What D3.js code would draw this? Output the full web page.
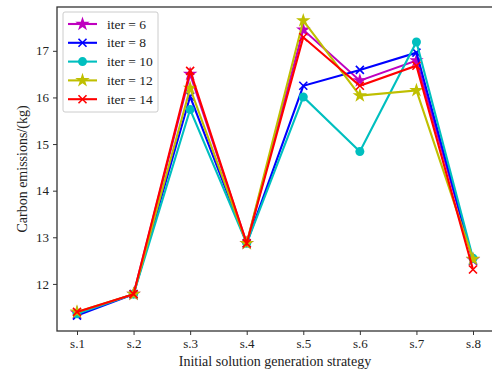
<!DOCTYPE html>
<html><head><meta charset="utf-8">
<script src="https://cdn.jsdelivr.net/npm/d3@7"></script>
<style>body{margin:0;background:#fff}svg{display:block}text{font-family:"Liberation Serif","DejaVu Serif",serif;fill:#222}</style>
</head><body>
<script>
const categories = ["s.1","s.2","s.3","s.4","s.5","s.6","s.7","s.8"];
const iter6  = [11.38, 11.78, 16.50, 12.87, 17.45, 16.36, 16.79, 12.52];
const iter8  = [11.32, 11.78, 16.02, 12.87, 16.25, 16.59, 16.96, 12.50];
const iter10 = [11.36, 11.78, 15.74, 12.87, 16.01, 14.84, 17.19, 12.55];
const iter12 = [11.40, 11.78, 16.20, 12.87, 17.65, 16.04, 16.15, 12.53];
const iter14 = [11.40, 11.78, 16.57, 12.87, 17.29, 16.25, 16.68, 12.31];
const seriesNames = ["iter = 6","iter = 8","iter = 10","iter = 12","iter = 14"];
const yTicks = [12, 13, 14, 15, 16, 17];

const series = [
  {name: seriesNames[0], values: iter6,  color: "#bf00bf", marker: "star"},
  {name: seriesNames[1], values: iter8,  color: "#0000ff", marker: "x"},
  {name: seriesNames[2], values: iter10, color: "#00bfbf", marker: "circle"},
  {name: seriesNames[3], values: iter12, color: "#bfbf00", marker: "star"},
  {name: seriesNames[4], values: iter14, color: "#ff0000", marker: "x"}
];

const W = 492, H = 373;
const m = {left: 57, top: 7, right: 493, bottom: 331};
const svg = d3.select("body").append("svg").attr("width", W).attr("height", H);

const x = d3.scalePoint().domain(categories).range([77, 473]);
const y = d3.scaleLinear().domain([10.99, 17.94]).range([m.bottom, m.top]);

// frame
svg.append("rect").attr("x", m.left).attr("y", m.top)
  .attr("width", m.right - m.left).attr("height", m.bottom - m.top)
  .attr("fill", "none").attr("stroke", "#333").attr("stroke-width", 1.3);

const xAxis = svg.append("g").attr("transform", `translate(0,${m.bottom})`)
  .call(d3.axisBottom(x).tickSize(4).tickPadding(4));
const yAxis = svg.append("g").attr("transform", `translate(${m.left},0)`)
  .call(d3.axisLeft(y).tickValues(yTicks).tickFormat(d3.format("d")).tickSize(4).tickPadding(4));
[xAxis, yAxis].forEach(a => {
  a.attr("font-family", "Liberation Serif").attr("font-size", 13);
  a.select(".domain").remove();
  a.selectAll("line").attr("stroke", "#333");
  a.selectAll("text").attr("fill", "#222");
});

svg.append("text").attr("x", 275).attr("y", 366).attr("text-anchor", "middle")
  .attr("font-family", "Liberation Serif").attr("font-size", 14).text("Initial solution generation strategy");
svg.append("text").attr("transform", `translate(27,${(m.top + m.bottom) / 2}) rotate(-90)`)
  .attr("text-anchor", "middle").attr("font-family", "Liberation Serif").attr("font-size", 14)
  .text("Carbon emissions/(kg)");

const star = d3.symbol().type(d3.symbolStar).size(65);
function drawMarker(g, type, color, cx, cy) {
  if (type === "star") {
    g.append("path").attr("d", star()).attr("transform", `translate(${cx},${cy})`).attr("fill", color);
  } else if (type === "circle") {
    g.append("circle").attr("cx", cx).attr("cy", cy).attr("r", 4.5).attr("fill", color);
  } else {
    const s = 4;
    g.append("path").attr("d", `M${cx - s},${cy - s}L${cx + s},${cy + s}M${cx - s},${cy + s}L${cx + s},${cy - s}`)
      .attr("stroke", color).attr("stroke-width", 1.6);
  }
}

const line = d3.line().x((d, i) => x(categories[i])).y(d => y(d));
const plot = svg.append("g");
series.forEach(s => {
  const g = plot.append("g");
  g.append("path").datum(s.values).attr("d", line).attr("fill", "none")
    .attr("stroke", s.color).attr("stroke-width", 2.1);
  s.values.forEach((v, i) => drawMarker(g, s.marker, s.color, x(categories[i]), y(v)));
});

// legend
const lg = svg.append("g");
lg.append("rect").attr("x", 63).attr("y", 12).attr("width", 95).attr("height", 100)
  .attr("rx", 2).attr("fill", "#fff").attr("fill-opacity", 0.85).attr("stroke", "#ccc");
series.forEach((s, i) => {
  const yy = 24 + i * 18.8;
  lg.append("line").attr("x1", 68).attr("x2", 97).attr("y1", yy).attr("y2", yy)
    .attr("stroke", s.color).attr("stroke-width", 2.1);
  drawMarker(lg, s.marker, s.color, 82.5, yy);
  lg.append("text").attr("x", 107).attr("y", yy + 4.5)
    .attr("font-family", "Liberation Serif").attr("font-size", 13.5).text(s.name);
});
</script>
</body></html>
